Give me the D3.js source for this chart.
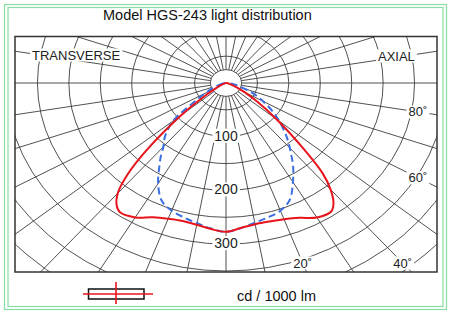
<!DOCTYPE html>
<html lang="en">
<head>
    <meta charset="UTF-8">
    <title>Model HGS-243 light distribution</title>
    <script src="https://d3js.org/d3.v7.min.js"></script>
    <style>
        body { margin: 0; background: #fff; }
        text { font-family: Arial, "Liberation Sans", sans-serif; }
    </style>
</head>
<body>
    <div id="chart"></div>

    <script>
        // angles from nadir (degrees) and candela per 1000 lm
        const curveAngles = [0, 5, 10, 15, 20, 25, 30, 35, 37.5, 40, 42.5, 45, 50, 55, 60, 65, 70, 80, 90];
        const redLeft   = [277, 273, 268, 266, 269, 276, 289, 294, 286, 268, 233, 184, 92, 38, 16, 7, 3, 1, 0];
        const redRight  = [277, 271, 267, 267, 270, 277, 289, 292, 281, 259, 227, 178, 105, 61, 34, 18, 9, 3, 0];
        const blueLeft  = [277, 272, 265, 259, 253, 242, 216, 184, 170, 155, 146, 136, 110, 62, 38, 24, 14, 5, 0];
        const blueRight = [277, 271, 264, 259, 253, 240, 213, 186, 171, 158, 146, 134, 111, 89, 68, 50, 31, 12, 2];

        const ringValues = d3.range(50, 550, 50);
        const spokeAngles = d3.range(0, 360, 10);
        const valueLabels = [100, 200, 300];
        const angleLabels = [20, 40, 60, 80];

        const width = 450, height = 315;
        const cx = 226, cy = 83, stretch = 1.17;
        const frame = {x: 15, y: 36.5, w: 422, h: 235.5};

        const svg = d3.select("#chart").append("svg")
            .attr("width", width)
            .attr("height", height);

        const r = d3.scaleLinear().domain([0, 350]).range([0, 188]);

        // polar -> screen, angle 0 points down, positive to the right (axial side)
        function project(deg, v) {
            const a = deg * Math.PI / 180;
            return [cx + stretch * r(v) * Math.sin(a), cy + r(v) * Math.cos(a)];
        }

        // green page border
        svg.append("rect").attr("x", 4.5).attr("y", 4.5).attr("width", 442).attr("height", 305)
            .attr("fill", "none").attr("stroke", "#86dfa0").attr("stroke-width", 1.2);
        svg.append("rect").attr("x", 8).attr("y", 7.5).attr("width", 435).attr("height", 299)
            .attr("fill", "none").attr("stroke", "#86dfa0").attr("stroke-width", 1.2);

        svg.append("text")
            .attr("x", 103).attr("y", 20)
            .attr("font-size", "14.5px")
            .attr("fill", "#111")
            .text("Model HGS-243 light distribution");

        svg.append("clipPath").attr("id", "clip")
            .append("rect")
            .attr("x", frame.x).attr("y", frame.y).attr("width", frame.w).attr("height", frame.h);

        const grid = svg.append("g").attr("clip-path", "url(#clip)")
            .attr("stroke", "#3d3d3d").attr("stroke-width", 0.9).attr("fill", "none");

        grid.selectAll("line.spoke").data(spokeAngles).join("line")
            .attr("class", "spoke")
            .attr("x1", d => project(d, 25)[0])
            .attr("y1", d => project(d, 25)[1])
            .attr("x2", d => project(d, 800)[0])
            .attr("y2", d => project(d, 800)[1]);

        grid.selectAll("ellipse").data([25].concat(ringValues)).join("ellipse")
            .attr("cx", cx).attr("cy", cy)
            .attr("rx", d => stretch * r(d))
            .attr("ry", d => r(d));

        svg.append("rect")
            .attr("x", frame.x).attr("y", frame.y).attr("width", frame.w).attr("height", frame.h)
            .attr("fill", "none").attr("stroke", "#333").attr("stroke-width", 1.5);

        // text sitting on the grid gets a white knockout box
        function boxedText(x, y, str, size, anchor) {
            const g = svg.append("g");
            const t = g.append("text")
                .attr("x", x).attr("y", y)
                .attr("font-size", size)
                .attr("text-anchor", anchor)
                .attr("dominant-baseline", "central")
                .attr("fill", "#222")
                .text(str);
            const b = t.node().getBBox();
            g.insert("rect", "text")
                .attr("x", b.x - 2).attr("y", b.y + 1)
                .attr("width", b.width + 4).attr("height", b.height - 2)
                .attr("fill", "#fff");
        }

        boxedText(32, 55, "TRANSVERSE", "13px", "start");
        boxedText(378, 56, "AXIAL", "13px", "start");

        valueLabels.forEach(v => {
            const p = project(0, v);
            boxedText(p[0], p[1] - 1, String(v), "14px", "middle");
        });

        // degree labels sit where their spoke meets the bottom row / right column
        angleLabels.forEach(a => {
            const dir = project(a, 100);
            const dx = dir[0] - cx, dy = dir[1] - cy;
            let t;
            if (a <= 40) t = (263 - cy) / dy;
            else t = (418 - cx) / dx;
            boxedText(cx + dx * t, cy + dy * t, a + "˚", "13px", "middle");
        });

        // luminous intensity curves
        function curvePoints(left, right) {
            const pts = [];
            for (let i = curveAngles.length - 1; i >= 0; i--) pts.push(project(-curveAngles[i], left[i]));
            for (let i = 1; i < curveAngles.length; i++) pts.push(project(curveAngles[i], right[i]));
            return pts;
        }
        const line = d3.line().curve(d3.curveCatmullRomClosed.alpha(0.5));

        svg.append("path")
            .attr("d", line(curvePoints(blueLeft, blueRight)))
            .attr("fill", "none")
            .attr("stroke", "#3b6fe0")
            .attr("stroke-width", 2)
            .attr("stroke-dasharray", "7,4");

        svg.append("path")
            .attr("d", line(curvePoints(redLeft, redRight)))
            .attr("fill", "none")
            .attr("stroke", "#e8141c")
            .attr("stroke-width", 2);

        // luminaire symbol
        svg.append("rect").attr("x", 88.5).attr("y", 289).attr("width", 55.5).attr("height", 10)
            .attr("fill", "none").attr("stroke", "#111").attr("stroke-width", 1.5);
        svg.append("line").attr("x1", 83).attr("y1", 294).attr("x2", 153).attr("y2", 294)
            .attr("stroke", "#e8141c").attr("stroke-width", 1.6);
        svg.append("line").attr("x1", 116).attr("y1", 282).attr("x2", 116).attr("y2", 304)
            .attr("stroke", "#e8141c").attr("stroke-width", 1.6);

        svg.append("text")
            .attr("x", 237).attr("y", 301)
            .attr("font-size", "14.5px")
            .attr("fill", "#111")
            .text("cd / 1000 lm");
    </script>
</body>
</html>
